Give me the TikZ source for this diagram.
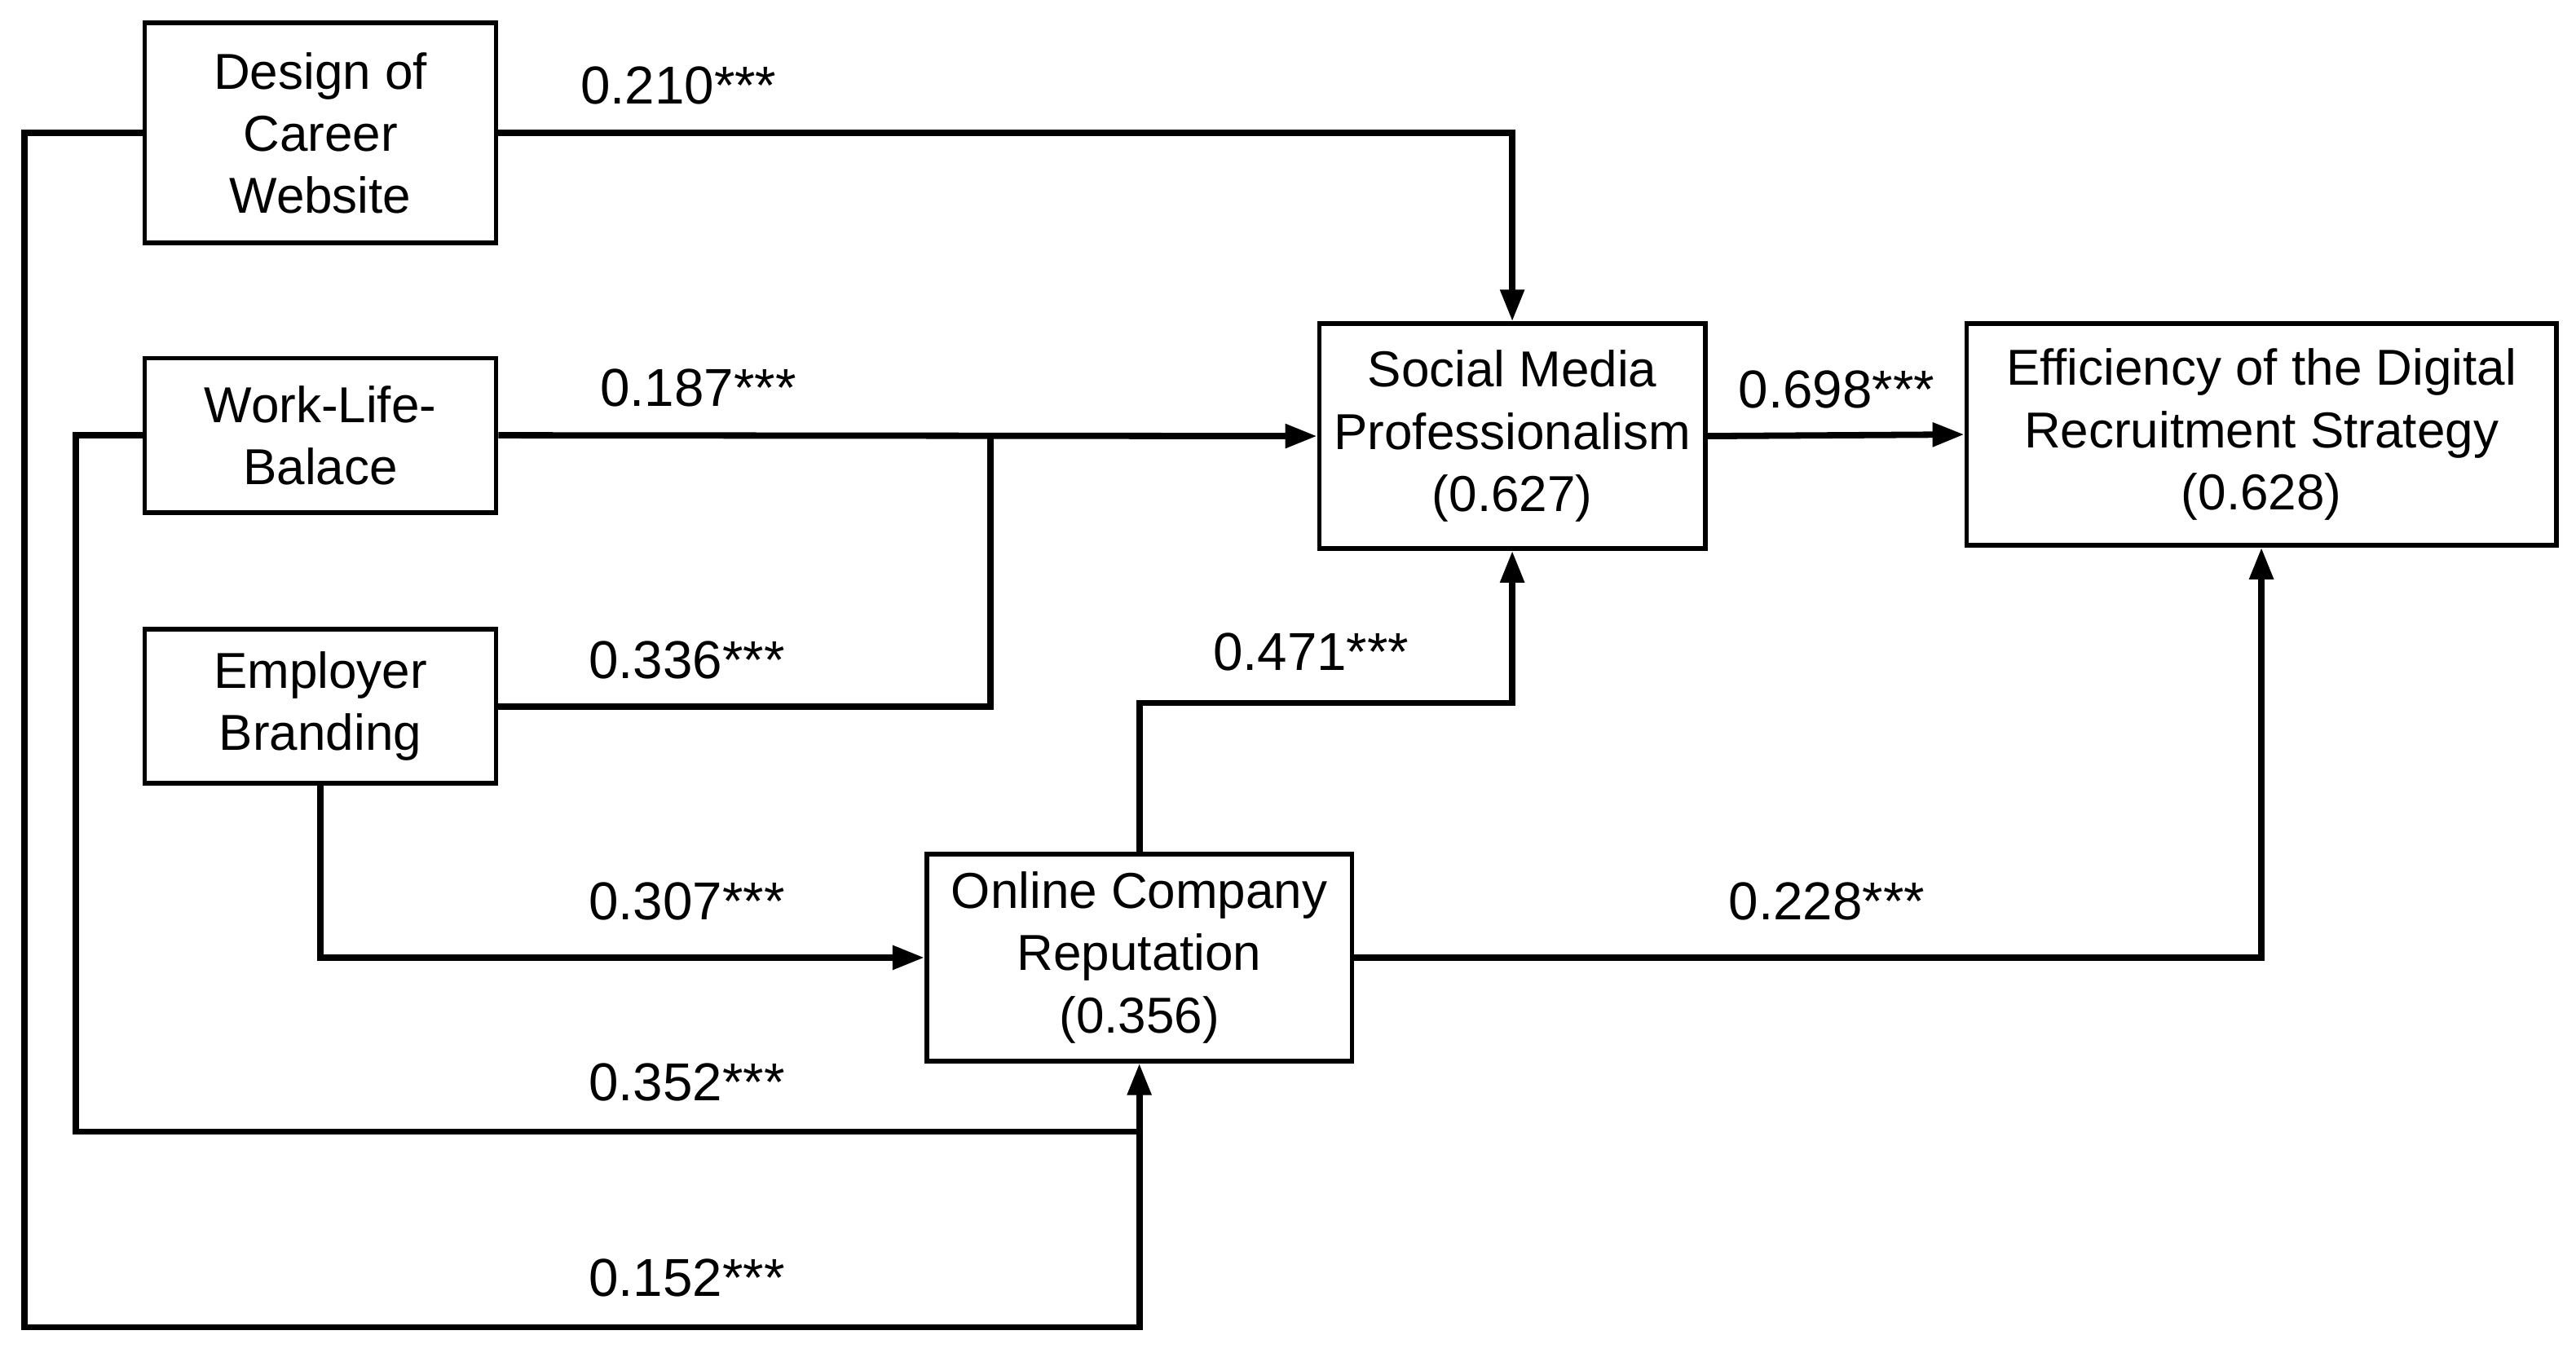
\documentclass[tikz,border=0pt]{standalone}
\usepackage{fontspec}
\setmainfont{Liberation Sans}
\usetikzlibrary{arrows.meta}
\begin{document}
\begin{tikzpicture}[x=0.02cm,y=-0.02cm,
  box/.style={draw,line width=1.6pt,align=center,inner sep=0pt,font=\fontsize{17.5}{21.5}\selectfont},
  lab/.style={font=\fontsize{18.5}{21}\selectfont},
  conn/.style={line width=2.2pt},
  arr/.style={conn,-{Triangle[length=11pt,width=8pt]}}]
\useasboundingbox (0,0) rectangle (1568,826);
\node[box,minimum width=4.28cm,minimum height=2.68cm] (design) at (195,81) {Design of\\Career\\Website};
\node[box,minimum width=4.28cm,minimum height=1.88cm] (wlb) at (195,265) {Work-Life-\\Balace};
\node[box,minimum width=4.28cm,minimum height=1.88cm] (emp) at (195,430) {Employer\\Branding};
\node[box,minimum width=4.7cm,minimum height=2.74cm] (smp) at (920.5,265.5) {Social Media\\Professionalism\\(0.627)};
\node[box,minimum width=7.18cm,minimum height=2.7cm] (eff) at (1376.5,264.5) {Efficiency of the Digital\\Recruitment Strategy\\(0.628)};
\node[box,minimum width=5.18cm,minimum height=2.52cm] (ocr) at (693.5,583) {Online Company\\Reputation\\(0.356)};
\coordinate (j1) at (603,265.5);
\draw[arr] (design.east) -| (smp.north);
\draw[arr] (design.west) -- (15,81) -- (15,808) -| (ocr.south);
\draw[arr] (wlb.east) -- (smp.west);
\draw[conn] (wlb.west) -- (46,265) -- (46,689) -- (693.5,689);
\draw[conn] (emp.east) -| (j1);
\draw[arr] (emp.south) |- (ocr.west);
\draw[arr] (ocr.north) |- (920.5,428) -- (smp.south);
\draw[arr] (smp.east) -- (eff.west);
\draw[arr] (ocr.east) -| (eff.south);
\node[lab] (l1) at (413,52) {0.210***};
\node[lab] (l2) at (425,236) {0.187***};
\node[lab] (l3) at (418,402) {0.336***};
\node[lab] (l4) at (418,549) {0.307***};
\node[lab] (l5) at (418,659) {0.352***};
\node[lab] (l6) at (418,778) {0.152***};
\node[lab] (l7) at (798,397) {0.471***};
\node[lab] (l8) at (1118,237) {0.698***};
\node[lab] (l9) at (1112,549) {0.228***};
\end{tikzpicture}
\end{document}
